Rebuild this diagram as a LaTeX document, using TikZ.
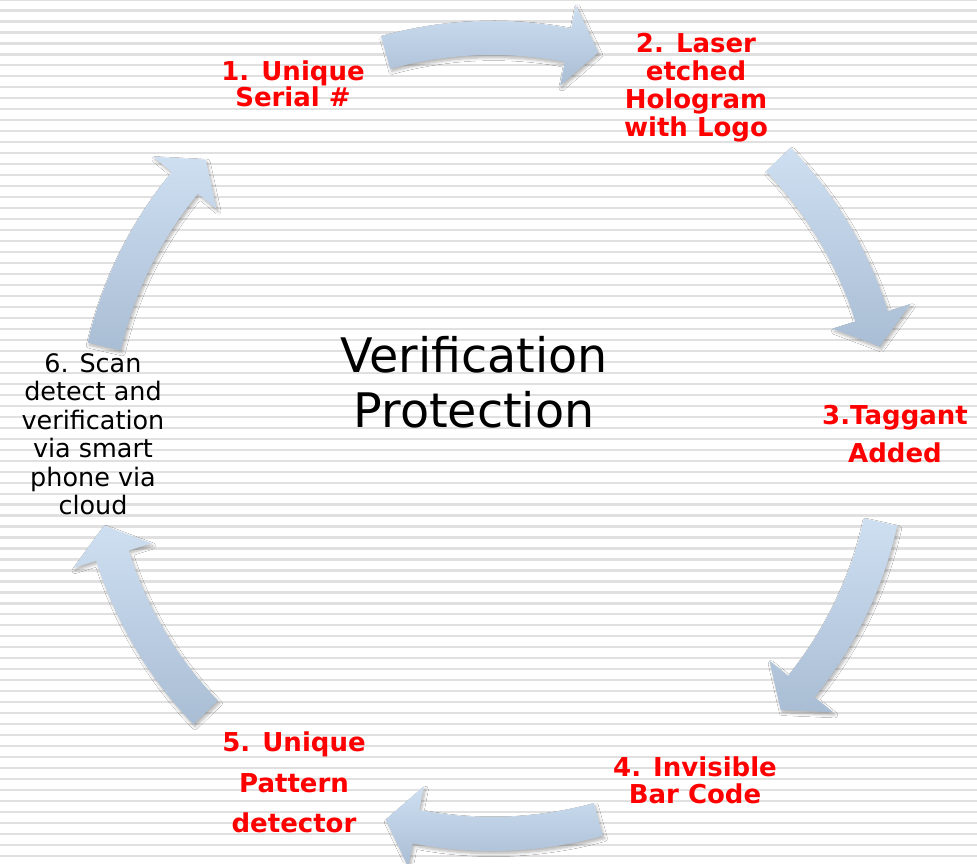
\documentclass[tikz,border=0pt]{standalone}
\usepackage{fontspec}
\setmainfont{DejaVu Sans}
\usetikzlibrary{shadows.blur}
\definecolor{arrowtop}{HTML}{CEDFF1}
\definecolor{arrowbot}{HTML}{A9BDD4}
\definecolor{stripe}{HTML}{E0E0E0}
\definecolor{labelred}{HTML}{FF0000}
\tikzset{
  cyclearrow/.style={top color=arrowtop, bottom color=arrowbot, draw=none,
    blur shadow={shadow xshift=1.2pt, shadow yshift=-2pt, shadow opacity=30, shadow blur steps=6}},
  redlabel/.style={text=labelred, font=\bfseries\fontsize{19.5}{#1}\selectfont, align=center, anchor=base, inner sep=0pt},
  blacklabel/.style={text=black, font=\fontsize{19.1}{#1}\selectfont, align=center, anchor=base, inner sep=0pt},
  titlelabel/.style={text=black, font=\fontsize{35.7}{41.25}\selectfont, align=center, anchor=base, inner sep=0pt},
  stripeline/.style={draw=stripe, line width=1.65pt}
}
\begin{document}
\begin{tikzpicture}[x=0.75pt,y=0.75pt]
\useasboundingbox (0,0) rectangle (977,863);
\fill[white] (0,0) rectangle (977,863);
\foreach \k in {-1,...,78}{
  \pgfmathsetmacro\yy{863-(10.5+10.98*\k)}
  \draw[stripeline] (0,\yy) -- (977,\yy);
}
% cycle arrows (centre angle of each arrow)
\foreach \a in {90,28.5,-28,-90,-151.5,151.5}{
  \pgfmathsetmacro\s{\a+15.5}
  \pgfmathsetmacro\b{\a-11}
  \pgfmathsetmacro\e{\a-15.5}
  \path[cyclearrow, shift={(492,427)}]
    (\s:415) arc[start angle=\s, end angle=\b, radius=415]
    -- (\b:439) -- (\e:398) -- (\b:357) -- (\b:381)
    arc[start angle=\b, end angle=\s, radius=381] -- cycle;
}
% labels (anchor base = baseline of last line)
\node[titlelabel] (title) at (474,435) {Verification\\Protection};
\node[redlabel=18.75] (n1) at (293,756) {1. Unique\\Serial \#};
\node[redlabel=21] (n2) at (696,726) {2. Laser\\etched\\Hologram\\with Logo};
\node[redlabel=28.5] (n3) at (895,400) {3.Taggant\\Added};
\node[redlabel=20] (n4) at (695,60) {4. Invisible\\Bar Code};
\node[redlabel=30] (n5) at (294,31) {5. Unique\\Pattern\\detector};
\node[blacklabel=21.4] (n6) at (93,348) {6. Scan\\detect and\\verification\\via smart\\phone via\\cloud};
\end{tikzpicture}
\end{document}
